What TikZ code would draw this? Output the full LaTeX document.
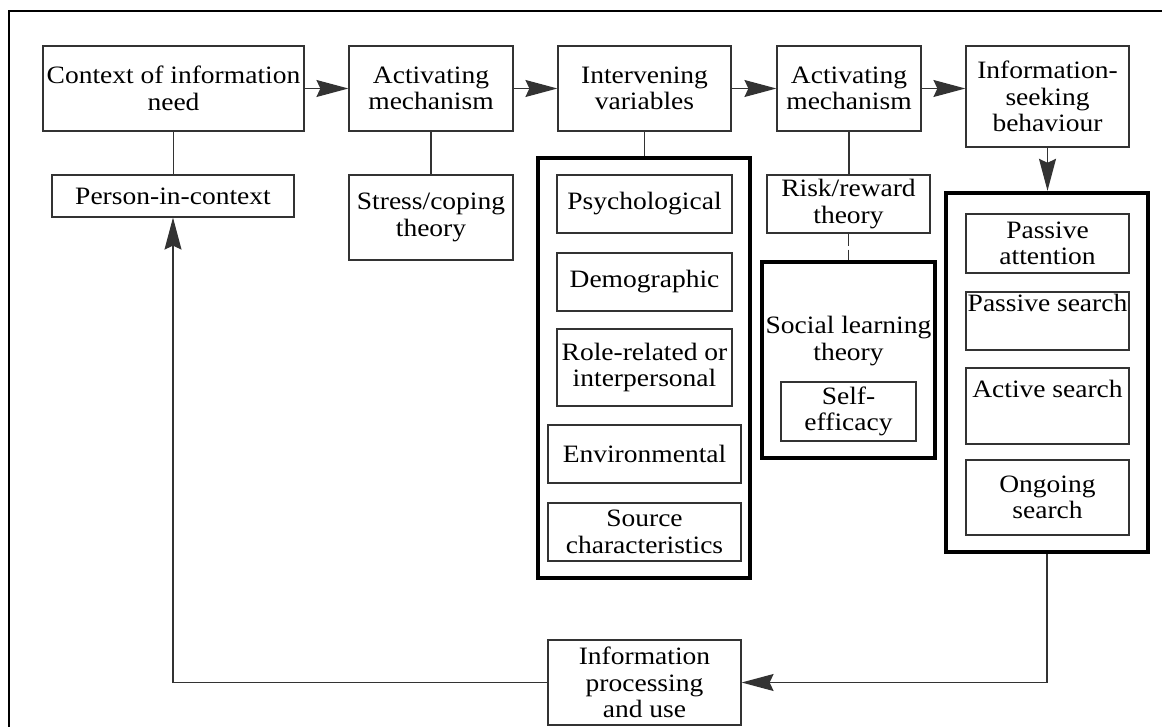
\documentclass[tikz,border=0pt]{standalone}
\usepackage{fontspec}
\setmainfont{Liberation Serif}[FakeStretch=1.1]
\usetikzlibrary{arrows.meta}

\begin{document}
\begin{tikzpicture}[x=0.5pt,y=-0.5pt,
        box/.style={draw=black!80,line width=0.6pt,inner sep=0pt,align=center,font=\fontsize{12.5}{13.2}\selectfont},
        frame/.style={draw=black,line width=2.2pt,inner sep=0pt},
        txt/.style={inner sep=1pt,align=center,font=\fontsize{12.5}{13.2}\selectfont},
        arr/.style={draw=black!80,line width=0.6pt,-{Stealth[length=16pt,width=8.5pt,inset=2pt]}}]
        \useasboundingbox (0,0) rectangle (1162,727);
                \draw[line width=1pt] (9,727)--(9,11)--(1162,11);

                % top row
                \node[box,minimum width=130.5pt,minimum height=42.5pt] (ctx) at (173.5,88.5) {Context of information\\need};
                \node[box,minimum width=82pt,minimum height=42.5pt] (act1) at (431,88.5) {Activating\\mechanism};
                \node[box,minimum width=86.5pt,minimum height=42.5pt] (inter) at (644.5,88.5) {Intervening\\variables};
                \node[box,minimum width=72pt,minimum height=42.5pt] (act2) at (849,88.5) {Activating\\mechanism};
                \node[box,minimum width=81.5pt,minimum height=50.5pt] (seek) at (1047.5,96.5) {Information-\\seeking\\behaviour};

                \node[box,minimum width=121pt,minimum height=21pt] (person) at (173,196) {Person-in-context};
                \node[box,minimum width=82pt,minimum height=42.5pt] (stress) at (431,217.5) {Stress/coping\\theory};

                % intervening variables
                \node[frame,minimum width=106pt,minimum height=210pt] (interframe) at (644,368) {};
                \node[box,minimum width=87.5pt,minimum height=29pt] (psych) at (644.5,204) {Psychological};
                \node[box,minimum width=87.5pt,minimum height=29pt] (demo) at (644.5,282) {Demographic};
                \node[box,minimum width=87.5pt,minimum height=38.5pt] (role) at (644.5,367.5) {Role-related or\\interpersonal};
                \node[box,minimum width=96.5pt,minimum height=29pt] (env) at (644.5,454) {Environmental};
                \node[box,minimum width=96.5pt,minimum height=29pt] (source) at (644.5,532) {Source\\characteristics};

                % second mechanism
                \node[box,minimum width=81.5pt,minimum height=29pt] (risk) at (848.5,204) {Risk/reward\\theory};
                \node[frame,minimum width=86.5pt,minimum height=98pt] (social) at (848.5,360) {};
                \node[txt] (socialtxt) at (848.5,341) {Social learning\\theory};
                \node[box,minimum width=67.5pt,minimum height=29.5pt] (self) at (848.5,411.5) {Self-\\efficacy};

                % seeking behaviour
                \node[frame,minimum width=101pt,minimum height=179.5pt] (seekframe) at (1047,372.5) {};
                \node[box,minimum width=81.5pt,minimum height=29.5pt] (passatt) at (1047.5,243.5) {Passive\\attention};
                \node[box,minimum width=81.5pt,minimum height=29pt] (passsrch) at (1047.5,321) {};
                \node[txt,anchor=north] (passsrchtxt) at (passsrch.north) {Passive search};
                \node[box,minimum width=81.5pt,minimum height=38pt] (active) at (1047.5,406) {};
                \node[txt,anchor=north] (activetxt) at ([yshift=-5pt]active.north) {Active search};
                \node[box,minimum width=81.5pt,minimum height=37.5pt] (ongoing) at (1047.5,497.5) {Ongoing\\search};

                \node[box,minimum width=96.5pt,minimum height=42.5pt] (proc) at (644.5,682.5) {Information\\processing\\and use};

                % connectors
                \draw[arr] (ctx)--(act1);
                \draw[arr] (act1)--(inter);
                \draw[arr] (inter)--(act2);
                \draw[arr] (act2)--(act2 -| seek.west);
                \draw[arr] (seek.south)--(seek.south |- seekframe.north);
                \draw[draw=black!80,line width=0.6pt] (ctx.south)--(ctx.south |- person.north);
                \draw[draw=black!80,line width=0.6pt] (act1)--(stress);
                \draw[draw=black!80,line width=0.6pt] (inter.south)--(inter.south |- interframe.north);
                \draw[draw=black!80,line width=0.6pt] (act2.south)--(act2.south |- risk.north);
                \draw[draw=black!80,line width=0.6pt,dash pattern=on 6pt off 2pt] (risk)--(social);
                \draw[arr] (seekframe.south) |- (proc.east);
                \draw[arr] (proc.west) -| (person.south);
\end{tikzpicture}
\end{document}
